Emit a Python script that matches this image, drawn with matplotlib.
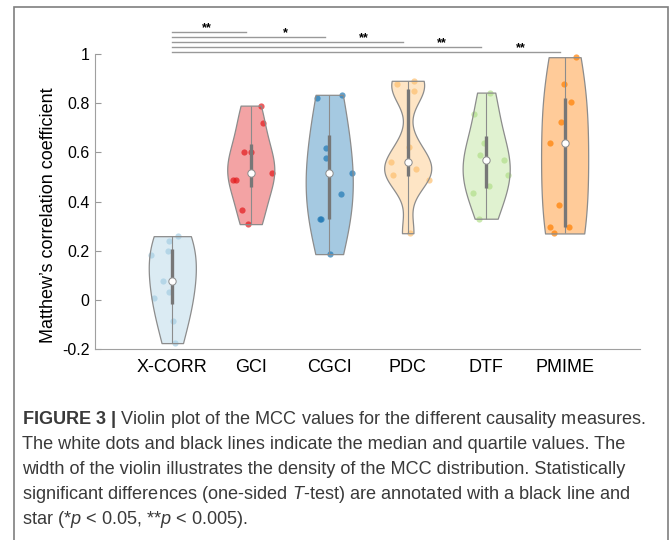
import numpy as np
import matplotlib.pyplot as plt
from matplotlib.colors import to_rgba
from matplotlib.patches import Rectangle

plt.rcParams['font.family'] = ['Liberation Sans', 'DejaVu Sans']
plt.rcParams['mathtext.fontset'] = 'custom'
plt.rcParams['mathtext.rm'] = 'Liberation Sans'
plt.rcParams['mathtext.it'] = 'Liberation Sans:italic'
plt.rcParams['mathtext.bf'] = 'Liberation Sans:bold'

labels = ['X-CORR', 'GCI', 'CGCI', 'PDC', 'DTF', 'PMIME']
colors = ['#a6cee3', '#e31a1c', '#1f78b4', '#fdbf6f', '#b2df8a', '#ff7f00']

# MCC per dataset for each causality measure
xcorr = [0.259, 0.241, 0.197, 0.183, 0.075, 0.030, 0.007, -0.088, -0.176]
gci = [0.790, 0.719, 0.603, 0.603, 0.514, 0.489, 0.489, 0.367, 0.308]
cgci = [0.834, 0.823, 0.617, 0.576, 0.514, 0.431, 0.327, 0.327, 0.186]
pdc = [0.891, 0.879, 0.850, 0.621, 0.559, 0.532, 0.509, 0.488, 0.271]
dtf = [0.843, 0.755, 0.637, 0.589, 0.570, 0.507, 0.462, 0.434, 0.330]
pmime = [0.987, 0.879, 0.804, 0.725, 0.636, 0.386, 0.296, 0.296, 0.270]

# horizontal scatter jitter of the individual points
xcorr_jit = [0.076, -0.038, -0.059, -0.275, -0.122, -0.038, -0.233, 0.013, 0.031]
gci_jit = [0.127, 0.153, -0.081, 0.0, 0.271, -0.229, -0.187, -0.115, -0.038]
cgci_jit = [0.158, -0.160, -0.046, -0.046, 0.285, 0.145, -0.115, -0.110, 0.013]
pdc_jit = [0.084, -0.140, 0.084, 0.017, -0.216, 0.106, -0.191, 0.267, 0.029]
dtf_jit = [0.047, -0.153, -0.025, -0.081, 0.225, 0.272, 0.034, -0.173, -0.089]
pmime_jit = [0.144, -0.013, 0.080, -0.043, -0.187, -0.069, -0.191, 0.051, -0.140]

# one-sided t-test of each measure against X-CORR
stars = ['**', '*', '**', '**', '**']

groups = [xcorr, gci, cgci, pdc, dtf, pmime]
jitters = [xcorr_jit, gci_jit, cgci_jit, pdc_jit, dtf_jit, pmime_jit]


def ksdensity_bw(kde):
    # ksdensity-style bandwidth (MAD based), as a factor of the std
    x = kde.dataset.ravel()
    sig = np.median(np.abs(x - np.median(x))) / 0.6745
    u = sig * (4 / (3 * len(x))) ** 0.2
    return u / np.std(x, ddof=1)


fig = plt.figure(figsize=(6.69, 5.40), dpi=100)
ax = fig.add_axes([0.142, 0.3537, 0.8146, 0.5463])

edge = '#8c8c8c'
for i, (vals, jit, c) in enumerate(zip(groups, jitters, colors)):
    pos = i + 1
    vals = np.array(vals)
    ax.scatter(pos + np.array(jit), vals, s=20, color=c, alpha=0.7, lw=0, zorder=1)
    parts = ax.violinplot(vals, positions=[pos], widths=0.6, showextrema=False,
                          bw_method=ksdensity_bw)
    body = parts['bodies'][0]
    body.set_alpha(None)
    body.set_facecolor(to_rgba(c, 0.4))
    body.set_edgecolor(edge)
    body.set_linewidth(0.9)
    body.set_zorder(2)
    q1, med, q3 = np.percentile(vals, [25, 50, 75], method='hazen')
    ax.vlines(pos, vals.min(), vals.max(), color=edge, lw=0.8, zorder=3)
    ax.vlines(pos, q1, q3, color='#777777', lw=2.4, zorder=4)
    ax.scatter([pos], [med], s=28, color='white', edgecolor=edge, lw=0.7, zorder=5)

# significance bars
sig_y = [1.09, 1.069, 1.048, 1.027, 1.007]
for k, (yk, st) in enumerate(zip(sig_y, stars)):
    end = k + 2 - 0.06
    ax.plot([1, end], [yk, yk], color='#999999', lw=1, clip_on=False)
    ax.text(k + 2 - 0.56, yk + 0.003, st, ha='center', va='baseline',
            fontsize=9, fontweight='bold', clip_on=False)

ax.set_xlim(0.015, 6.96)
ax.set_ylim(-0.2, 1)
ax.set_xticks(range(1, 7), labels, fontsize=13)
ax.tick_params(axis='x', length=0, pad=7)
yt = [-0.2, 0, 0.2, 0.4, 0.6, 0.8, 1]
ax.set_yticks(yt, ['-0.2', '0', '0.2', '0.4', '0.6', '0.8', '1'])
ax.tick_params(axis='y', direction='in', length=4, color='#999999', labelsize=11.5, pad=4)
for s in ['top', 'right']:
    ax.spines[s].set_visible(False)
for s in ['left', 'bottom']:
    ax.spines[s].set_color('#a0a0a0')
fig.text(48.5 / 669, 1 - 215 / 540, 'Matthew’s correlation coefficient',
         rotation=90, ha='center', va='center', fontsize=13)

# frame around figure panel
fig.patches.append(Rectangle((14 / 669, -0.1), (667.5 - 14) / 669, 1.1 - 7 / 540,
                             transform=fig.transFigure, fill=False,
                             edgecolor='#7f7f7f', lw=1.2))

caption = [
    r'$\mathbf{FIGURE\ 3\ |}$ Violin plot of the MCC values for the different causality measures.',
    'The white dots and black lines indicate the median and quartile values. The',
    'width of the violin illustrates the density of the MCC distribution. Statistically',
    r'significant differences (one-sided $T$-test) are annotated with a black line and',
    r'star (*$p$ < 0.05, **$p$ < 0.005).',
]
for j, line in enumerate(caption):
    fig.text(22 / 669, 1 - (424 + 25 * j) / 540, line, fontsize=13.1,
             color='#3a3a3a', va='baseline', ha='left')

fig.savefig('out.png', dpi=100)
